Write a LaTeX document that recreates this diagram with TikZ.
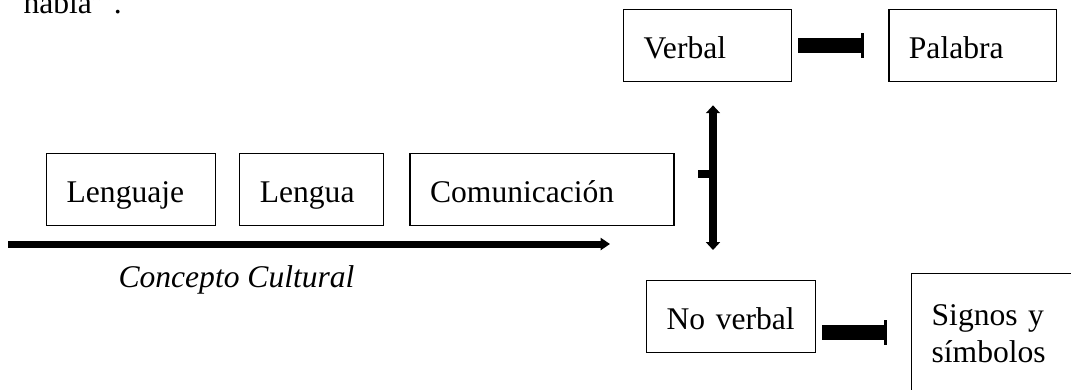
\documentclass[tikz,border=0pt]{standalone}
\usepackage{fontspec}
\setmainfont{Liberation Serif}
\usetikzlibrary{positioning,arrows.meta}
\tikzset{
  box/.style = 		{shape=rectangle, draw, line width=0.5pt,
				anchor=north west, align=left, inner xsep=7.6pt,
				font=\fontsize{12}{14}\selectfont},
  term/.style = 	{box, minimum height=27.4pt, inner ysep=0pt,
				text height=9.9pt, text depth=0pt},
  openbox/.style = 	{box, inner ysep=11.9pt, text depth=20pt},
  note/.style = 	{anchor=base west, inner sep=0pt,
				font=\fontsize{12}{14}\selectfont},
  cultural/.style = 	{note, font=\fontsize{12}{14}\selectfont\itshape},
  flow/.style = 	{line width=2.66pt, -{Triangle[width=4.6pt,length=3.6pt]}},
  forkarrow/.style = 	{line width=3pt, -{Triangle[width=5.3pt,length=3pt]}},
  stub/.style = 	{line width=2.7pt},
  barlink/.style = 	{line width=5.7pt, -{Bar[width=9.5pt,line width=1.1pt]},
				shorten <=2.3pt, shorten >=9.1pt},
}

\begin{document}
\begin{tikzpicture}
	[
		x = 0.38pt,
		y = -0.38pt
	]
	\useasboundingbox (0,0) rectangle (1071,389);
	\clip (0,0) rectangle (1071,389);
	% text cut off at the top of the page
	\node [note] (habla) at (23,13) {habla” .};
	% row of concepts
	\node [term, text width=49pt] (lenguaje) at (46,153) {Lenguaje};
	\node [term, text width=39.5pt, right=8.7pt of lenguaje] (lengua) {Lengua};
	\node [term, text width=85.1pt, right=9.5pt of lengua] (comunicacion) {Comunicación};
	\node [cultural] (cultural) at (118,287) {Concepto Cultural};
	% kinds of communication
	\node [term, text width=48.6pt] (verbal) at (623,9) {Verbal};
	\node [term, text width=48.6pt, right=36.5pt of verbal] (palabra) {Palabra};
	\node [term, text width=49pt] (noverbal) at (646,280) {No verbal};
	\node [openbox, text width=70pt] (signos) at (911,273) {Signos y\\símbolos};

	\coordinate (cult start) at (8,244);
	\coordinate (cult end) at (610,244);
	\coordinate (fork) at (713,174);
	\draw [flow] (cult start) -- (cult end);
	\draw [stub, shorten >=8.7pt] (fork) -- (fork -| comunicacion.east);
	\draw [forkarrow, shorten >=8.7pt] (fork) -- (fork |- verbal.south);
	\draw [forkarrow, shorten >=11.4pt] (fork) -- (fork |- noverbal.north);
	\draw [barlink] (verbal) -- (palabra);
	\draw [barlink] ([yshift=-6.1pt]noverbal.east) -- ([yshift=-6.1pt]noverbal.east -| signos.west);
\end{tikzpicture}
\end{document}
